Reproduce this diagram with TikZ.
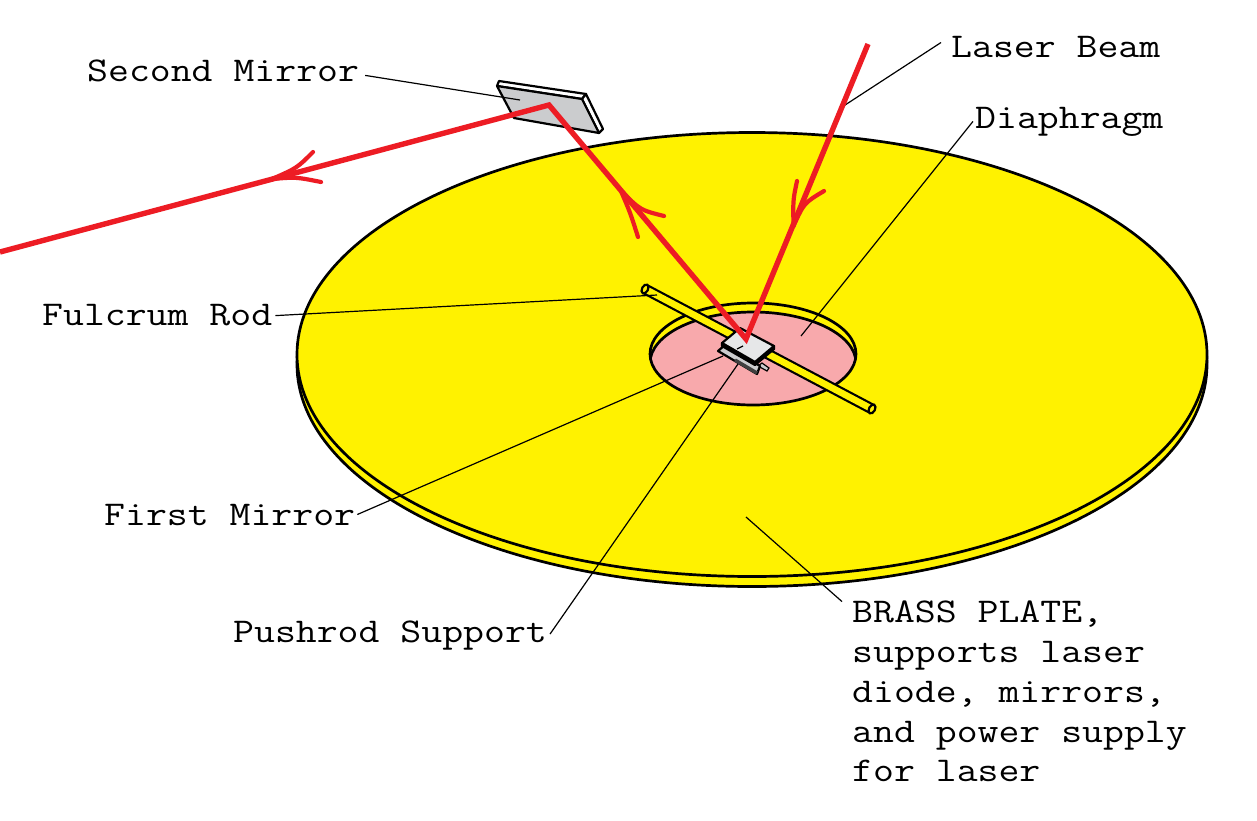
\documentclass[tikz,border=0pt]{standalone}
\usepackage{fontspec}
\setmonofont[FakeStretch=1.17]{Latin Modern Mono}
\definecolor{brass}{HTML}{FFF200}
\definecolor{pinkd}{HTML}{F8A9AC}
\definecolor{beamred}{HTML}{ED1C24}
\definecolor{mgray}{HTML}{CBCCCE}
\definecolor{lgray}{HTML}{E6E7E8}
\tikzset{
 lbl/.style={anchor=base west,inner sep=0pt,font=\fontsize{34.7}{40}\selectfont\ttfamily},
 outline/.style={draw=black,line width=2.7pt},
 leader/.style={draw=black,line width=1.2pt},
 beam/.style={draw=beamred,line width=5.4pt,miter limit=10},
 barb/.style={draw=beamred,line width=4.2pt,line cap=round},
 part/.style={draw=black,line width=2.2pt,line join=round}
}
\begin{document}
\begin{tikzpicture}[x=1pt,y=-1pt]
\useasboundingbox (0,0) rectangle (1257,820);
% plate
\fill[white] (0,0) rectangle (1257,820);
\path[outline,fill=brass] (752,364.5) ellipse[x radius=455,y radius=222];
\path[outline,fill=brass] (752,354.5) ellipse[x radius=455,y radius=222];
% hole
\fill[brass] (753,354) ellipse[x radius=103,y radius=51];
\begin{scope}
 \clip (753,354) ellipse[x radius=103,y radius=51];
 \path[outline,fill=pinkd] (753,363) ellipse[x radius=103,y radius=51];
\end{scope}
\path[outline] (753,354) ellipse[x radius=103,y radius=51];
% rod
\coordinate (rodA) at (645,289);
\coordinate (rodB) at (872,409);
\draw[black,line width=11pt] (rodA) -- (rodB);
\draw[brass,line width=6.6pt] (rodA) -- (rodB);
\path[draw=black,line width=2.2pt,fill=brass,shift={(rodB)},rotate=-28] (0,0) ellipse[x radius=3,y radius=4.8];
\path[draw=black,line width=2.2pt,fill=brass,shift={(rodA)},rotate=-28] (0,0) ellipse[x radius=3,y radius=4.8];
% first mirror and support
\path[draw=black,line width=1.2pt,fill=mgray] (762,363) -- (769,368) -- (767,371) -- (758,366) -- cycle;
\path[part,fill=mgray] (718,351) -- (725,345) -- (760,366) -- (757,374) -- cycle;
\draw[black!75,line width=3.4pt] (735,360) -- (757,373);
\path[part,fill=black] (722,346) -- (755,365) -- (774,349) -- (774,346) -- (755,362) -- (722,343) -- cycle;
\path[part,fill=lgray] (722,343) -- (740,328) -- (774,346) -- (755,362) -- cycle;
% second mirror
\path[part,fill=white] (497,86) -- (499,81) -- (586,94) -- (582,99) -- cycle;
\path[part,fill=white] (582,99) -- (586,94) -- (603,129) -- (599,133) -- cycle;
\path[part,fill=mgray] (497,86) -- (582,99) -- (599,133) -- (514,118) -- cycle;
% labels
\node[lbl] (lsecond) at (87,81) {Second Mirror};
\node[lbl] (llaser) at (951,57) {Laser Beam};
\node[lbl] (ldia) at (975,128) {Diaphragm};
\node[lbl] (lrod) at (42,325) {Fulcrum Rod};
\node[lbl] (lfirst) at (104,525) {First Mirror};
\node[lbl] (lpush) at (233,642) {Pushrod Support};
\node[lbl] (lb1) at (852,622) {BRASS PLATE,};
\node[lbl] (lb2) at (852,662) {supports laser};
\node[lbl] (lb3) at (852,702) {diode, mirrors,};
\node[lbl] (lb4) at (852,742) {and power supply};
\node[lbl] (lb5) at (852,781) {for laser};
% leaders
\coordinate (eSecond) at (520,100);
\coordinate (eLaser) at (842,107);
\coordinate (eDia) at (801,336);
\coordinate (eRod) at (657,295);
\coordinate (eFirst) at (723,356);
\coordinate (eFirstB) at (737,349);
\coordinate (eFirstC) at (743,346);
\coordinate (ePush) at (738,364);
\coordinate (eBrass) at (746,517);
\path[leader] ([shift={(6,5)}]lsecond.east) -- (eSecond);
\path[leader] ([shift={(-10,-4)}]llaser.west) -- (eLaser);
\path[leader] ([shift={(-2,0)}]ldia.west) -- (eDia);
\path[leader] ([shift={(3,1)}]lrod.east) -- (eRod);
\path[leader] ([shift={(2,0)}]lfirst.east) -- (eFirst);
\path[leader] (eFirstB) -- (eFirstC);
\path[leader] ([shift={(3,-1)}]lpush.east) -- (ePush);
\path[leader] ([shift={(-10,-12)}]lb1.west) -- (eBrass);
% beam
\coordinate (bStart) at (868,44);
\coordinate (bFirst) at (746,339);
\coordinate (bSecond) at (549,105);
\coordinate (bEnd) at (0,252);
\path[beam] (bStart) -- (bFirst) -- (bSecond) -- (bEnd);
% arrowheads
\coordinate (t1) at (793.5,226);
\coordinate (t2) at (620.5,190);
\coordinate (t3) at (272,179);
\path[barb] (797,181) .. controls (793,200) .. (t1);
\path[barb] (824,191) .. controls (804,203) .. (t1);
\path[barb] (664,216) .. controls (640,210) .. (t2);
\path[barb] (638,237) .. controls (630,212) .. (t2);
\path[barb] (313,152) .. controls (297,168) .. (t3);
\path[barb] (321,182) .. controls (296,177) .. (t3);
\end{tikzpicture}
\end{document}
